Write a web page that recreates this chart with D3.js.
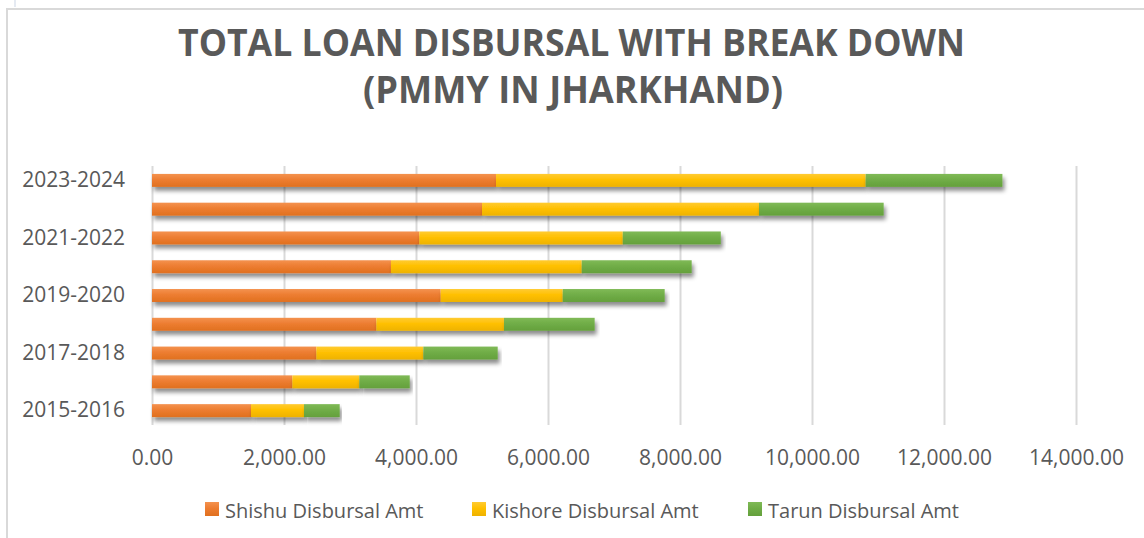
<!DOCTYPE html>
<html>
<head>
<meta charset="utf-8">
<script src="https://cdn.jsdelivr.net/npm/d3@7"></script>
<style>
  body { margin: 0; background: #fff; }
  text { font-family: "Open Sans", sans-serif; fill: #595959; }
</style>
</head>
<body>
<div id="chart"></div>
<script>
// data
var years = ["2015-2016", "2016-2017", "2017-2018", "2018-2019", "2019-2020",
             "2020-2021", "2021-2022", "2022-2023", "2023-2024"];
var shishu  = [1500, 2126, 2490, 3399, 4374, 3621, 4050, 5000, 5212];
var kishore = [803, 1015, 1621, 1934, 1849, 2890, 3083, 4197, 5601];
var tarun   = [541, 764, 1127, 1374, 1545, 1666, 1485, 1889, 2072];
var seriesNames = ["Shishu Disbursal Amt", "Kishore Disbursal Amt", "Tarun Disbursal Amt"];
var yTickLabels = ["2015-2016", "2017-2018", "2019-2020", "2021-2022", "2023-2024"];
var xTicks = [0, 2000, 4000, 6000, 8000, 10000, 12000, 14000];

var svgWidth = 1144;
var svgHeight = 538;

var margin = { top: 166, left: 152, right: 68, bottom: 113 };
var width = svgWidth - margin.left - margin.right;   // 924
var height = svgHeight - margin.top - margin.bottom; // 259

var colors = ["#ED7D31", "#FFC000", "#70AD47"];
var lighter = ["#F4924F", "#FFCB33", "#80BA57"];
var darker = ["#E0701F", "#EEB200", "#64A03C"];

var svg = d3.select("#chart").append("svg")
  .attr("width", svgWidth)
  .attr("height", svgHeight);

var defs = svg.append("defs");
colors.forEach(function(c, i) {
  var g = defs.append("linearGradient")
    .attr("id", "grad" + i)
    .attr("x1", 0).attr("y1", 0).attr("x2", 0).attr("y2", 1);
  g.append("stop").attr("offset", "0%").attr("stop-color", lighter[i]);
  g.append("stop").attr("offset", "45%").attr("stop-color", c);
  g.append("stop").attr("offset", "100%").attr("stop-color", darker[i]);
});
defs.append("filter")
  .attr("id", "shadow")
  .attr("x", "-5%").attr("y", "-50%").attr("width", "110%").attr("height", "250%")
  .append("feDropShadow")
  .attr("dx", 2).attr("dy", 4).attr("stdDeviation", 2.2)
  .attr("flood-color", "#000").attr("flood-opacity", 0.45);

// outer frame of the chart box
svg.append("path")
  .attr("d", "M7," + svgHeight + " V9 H" + svgWidth)
  .attr("fill", "none")
  .attr("stroke", "#d9d9d9")
  .attr("stroke-width", 2);
svg.append("line")
  .attr("x1", 15).attr("x2", 15).attr("y1", 0).attr("y2", 7)
  .attr("stroke", "#dde3ee").attr("stroke-width", 1.5);

// title
var title = svg.append("g").attr("class", "title");
title.append("text")
  .attr("x", 571.5).attr("y", 56)
  .attr("text-anchor", "middle")
  .attr("font-size", 38).attr("font-weight", 700)
  .attr("textLength", 787).attr("lengthAdjust", "spacingAndGlyphs")
  .text("TOTAL LOAN DISBURSAL WITH BREAK DOWN");
title.append("text")
  .attr("x", 573).attr("y", 103)
  .attr("text-anchor", "middle")
  .attr("font-size", 38).attr("font-weight", 700)
  .attr("textLength", 420).attr("lengthAdjust", "spacingAndGlyphs")
  .text("(PMMY IN JHARKHAND)");

var chartGroup = svg.append("g")
  .attr("transform", `translate(${margin.left}, ${margin.top})`);

var xScale = d3.scaleLinear().domain([0, 14000]).range([0, width]);
var yScale = d3.scaleBand()
  .domain(years.slice().reverse())
  .range([0, height])
  .paddingInner(0.55)
  .paddingOuter(0.275);

// x axis with gridlines
var xAxis = chartGroup.append("g")
  .attr("class", "x-axis")
  .attr("transform", `translate(0, ${height})`)
  .call(d3.axisBottom(xScale)
    .tickValues(xTicks)
    .tickSize(-height)
    .tickPadding(25)
    .tickFormat(d3.format(",.2f")));
xAxis.select(".domain").remove();
xAxis.selectAll("line").attr("stroke", "#d9d9d9").attr("stroke-width", 2);
xAxis.selectAll("text").attr("font-size", 21).attr("fill", "#595959");

// y axis labels (every other year as in the picture)
var yAxis = chartGroup.append("g")
  .attr("class", "y-axis")
  .call(d3.axisLeft(yScale)
    .tickValues(yTickLabels)
    .tickSize(0)
    .tickPadding(27));
yAxis.select(".domain").remove();
yAxis.selectAll("text").attr("font-size", 21).attr("fill", "#595959");

// stacked bars
var table = years.map(function(y, i) {
  return { year: y, shishu: shishu[i], kishore: kishore[i], tarun: tarun[i] };
});
var stack = d3.stack().keys(["shishu", "kishore", "tarun"]);
var stacked = stack(table);

var layers = chartGroup.selectAll("g.layer")
  .data(stacked)
  .enter()
  .append("g")
  .attr("class", "layer")
  .attr("fill", (d, i) => "url(#grad" + i + ")");

layers.selectAll("rect")
  .data(d => d)
  .enter()
  .append("rect")
  .attr("x", d => xScale(d[0]))
  .attr("y", d => yScale(d.data.year))
  .attr("width", d => xScale(d[1]) - xScale(d[0]))
  .attr("height", yScale.bandwidth())
  .attr("filter", "url(#shadow)");

// legend
var legendX = [205, 472, 748];
var legend = svg.append("g").attr("class", "legend");
seriesNames.forEach(function(name, i) {
  var item = legend.append("g").attr("transform", `translate(${legendX[i]}, 502)`);
  item.append("rect")
    .attr("width", 14).attr("height", 14)
    .attr("fill", "url(#grad" + i + ")");
  item.append("text")
    .attr("x", 20).attr("y", 16)
    .attr("font-size", 20)
    .text(name);
});
</script>
</body>
</html>
